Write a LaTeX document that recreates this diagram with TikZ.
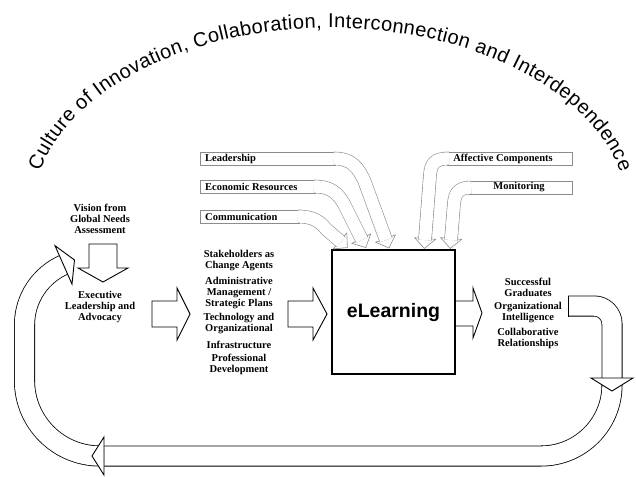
\documentclass[tikz,border=0pt]{standalone}
\usepackage{fontspec}
\setmainfont{Liberation Serif}
\newfontfamily\arialf{Liberation Sans}
\usetikzlibrary{calc,decorations.text}
\definecolor{cgray}{gray}{0.55}
\newcommand\callarrow[5]{%
  \coordinate (cM) at #4; \coordinate (cE) at #5;
  \coordinate (cB) at ($(cE)!1.5pt!(cM)$);
  \coordinate (cT) at ($(cB)!-10pt!(cM)$);
  \filldraw[callhead] ($(cB)!10.5pt!90:(cT)$) -- (cT) -- ($(cB)!10.5pt!-90:(cT)$) -- cycle;
  \draw[calltail] #1 .. controls #2 and #3 .. (cM) -- (cE);
}
\begin{document}
\begin{tikzpicture}[x=1pt,y=-1pt,
  lbl/.style={font=\bfseries\fontsize{10.5}{11}\selectfont, align=center, inner sep=0pt},
  boxlbl/.style={font=\bfseries\fontsize{10.5}{11}\selectfont, inner sep=0pt, anchor=west},
  block/.style={draw=black, line width=0.9pt, fill=white, line join=miter},
  bigtail/.style={draw=black, line width=0.8pt, double=white, double distance=19.4pt},
  calltail/.style={draw=cgray, line width=0.6pt, double=white, double distance=12.4pt},
  callline/.style={draw=cgray, line width=0.6pt, fill=white},
  callhead/.style={draw=cgray, line width=0.6pt, fill=white, line join=miter}]
\useasboundingbox[fill=white] (0,0) rectangle (636,476);

% title on arc
\path[decorate, decoration={text along path, text align=fit to path,
  text={|\arialf\fontsize{20}{20}\selectfont|Culture of Innovation{,} Collaboration{,} Interconnection and Interdependence}}]
  (330,214) ++(-166.7:298 and 186) arc[start angle=-166.7, end angle=-13, x radius=298, y radius=186];

% big loop
\draw[bigtail] (612,381) -- (612,385) arc[start angle=0, end angle=90, radius=71] -- (102.5,456);
\draw[bigtail] (104,456) -- (100,456) arc[start angle=90, end angle=180, radius=75.5] -- (24.5,325) arc[start angle=180, end angle=247.3, radius=65.8];
\filldraw[block] (104,437) -- (92,456) -- (104,475) -- cycle;
\filldraw[block] (55.0,245.7) -- (74.5,260.0) -- (72.0,284.1) -- cycle;

% right curl
\draw[bigtail] (568,306) -- (594,306) arc[start angle=-90, end angle=0, radius=18] -- (612,379.5);
\draw[black, line width=0.8pt] (568,295.5) -- (568,316.5);
\filldraw[block] (591,378) -- (633,378) -- (612,391) -- cycle;

% straight block arrows
\filldraw[block] (89,244) -- (117,244) -- (117,268) -- (128,268) -- (103,282) -- (78,268) -- (89,268) -- cycle;
\filldraw[block] (152,301) -- (177,301) -- (177,288) -- (190,314) -- (177,340) -- (177,327) -- (152,327) -- cycle;
\filldraw[block] (288,301) -- (313,301) -- (313,288) -- (327,314) -- (313,340) -- (313,327) -- (288,327) -- cycle;
\filldraw[block] (455,301) -- (473,301) -- (473,288) -- (482,313) -- (473,338) -- (473,326) -- (455,326) -- cycle;

% eLearning box
\node[draw, line width=2pt, minimum width=123pt, minimum height=124pt, inner sep=0pt,
  font=\arialf\bfseries\fontsize{19.5}{20}\selectfont] (el) at (393.5,312) {eLearning};

% callout boxes
\draw[callline] (336,152) -- (200,152) -- (200,165) -- (336,165);
\draw[callline] (316,180) -- (200,180) -- (200,193) -- (316,193);
\draw[callline] (300,210) -- (200,210) -- (200,223) -- (300,223);
\draw[callline] (447,152) -- (572,152) -- (572,165) -- (447,165);
\draw[callline] (469,181) -- (572,181) -- (572,194) -- (469,194);

\callarrow{(334,158.5)}{(352,158.5)}{(358,168)}{(364,180)}{(386,240)}
\callarrow{(314,186.5)}{(332,186.5)}{(338,194)}{(344,204)}{(362,240)}
\callarrow{(298,216.5)}{(314,216.5)}{(320,222)}{(326,229)}{(341,242)}
\callarrow{(449,158.5)}{(434,158.5)}{(431,164)}{(430,175)}{(425,240)}
\callarrow{(471,187.5)}{(458,187.5)}{(455,194)}{(454,203)}{(451,240)}

\node[boxlbl] (lead) at (205,158.5) {Leadership};
\node[boxlbl] (econ) at (205,186.5) {Economic Resources};
\node[boxlbl] (comm) at (205,216.5) {Communication};
\node[lbl] (aff) at (503,158.5) {Affective Components};
\node[lbl] (mon) at (519,187.5) {Monitoring};

% texts
\node[lbl] (vision) at (100,218.5) {Vision from\\Global Needs\\Assessment};
\node[lbl] (exec) at (100,307) {Executive\\Leadership and\\Advocacy};
\node[lbl] (stake) at (239,260.5) {Stakeholders as\\Change Agents};
\node[lbl] (admin) at (239,293) {Administrative\\Management /\\Strategic Plans};
\node[lbl] (tech) at (239,323.5) {Technology and\\Organizational};
\node[lbl] (infra) at (239,345) {Infrastructure};
\node[lbl] (prof) at (239,364) {Professional\\Development};
\node[lbl] (succ) at (528,287) {Successful\\Graduates};
\node[lbl] (org) at (528,313) {Organizational\\Intelligence};
\node[lbl] (collab) at (528,338.5) {Collaborative\\Relationships};
\end{tikzpicture}
\end{document}
